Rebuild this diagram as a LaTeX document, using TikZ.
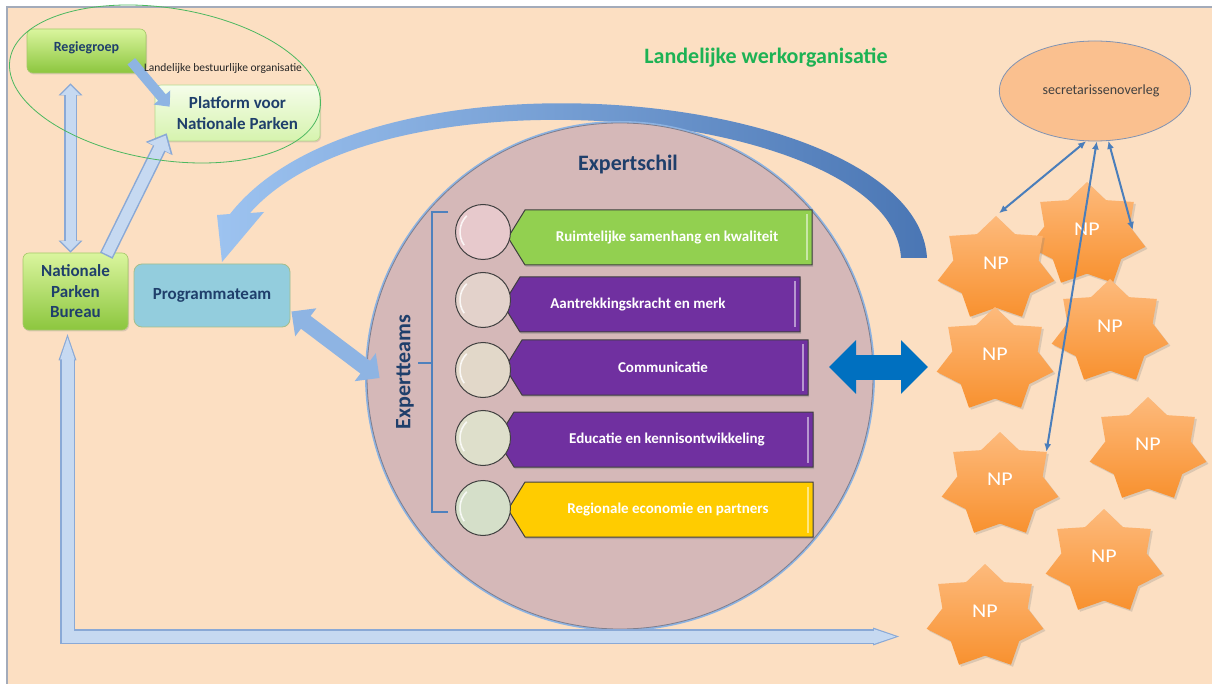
\documentclass[tikz,border=0pt]{standalone}
\usepackage{fontspec}
\setmainfont{Carlito}
\usepackage{tikz}
\usetikzlibrary{
    shapes, shapes.geometric,
    arrows.meta, positioning, calc, shadows
}
\definecolor{peachBg}{HTML}{FCDFC2}
\definecolor{frameGrey}{HTML}{A3ABBA}
\definecolor{textNavy}{HTML}{1F3F6B}
\definecolor{leafTop}{HTML}{DAF59E}
\definecolor{leafBottom}{HTML}{8CC63E}
\definecolor{leafEdge}{HTML}{A6C86A}
\definecolor{paleTop}{HTML}{F5FDEA}
\definecolor{paleBottom}{HTML}{D6F3AE}
\definecolor{paleEdge}{HTML}{B5D98A}
\definecolor{ringGreen}{HTML}{4CB860}
\definecolor{titleGreen}{HTML}{1DB254}
\definecolor{labelInk}{HTML}{262626}
\definecolor{progBlue}{HTML}{93CDDD}
\definecolor{progEdge}{HTML}{A3BE8C}
\definecolor{arrowPale}{HTML}{C6D9F1}
\definecolor{arrowMid}{HTML}{8EB4E3}
\definecolor{arrowEdge}{HTML}{8AA9D6}
\definecolor{shellRose}{HTML}{D5B8B8}
\definecolor{shellEdge}{HTML}{7E7E8E}
\definecolor{glowBlue}{HTML}{8DB3E2}
\definecolor{braceBlue}{HTML}{4F81BD}
\definecolor{barBorder}{HTML}{3F3F3F}
\definecolor{barGreen}{HTML}{92D050}
\definecolor{barPurple}{HTML}{7030A0}
\definecolor{barYellow}{HTML}{FFCC00}
\definecolor{knobEdge}{HTML}{404040}
\definecolor{knobRose}{HTML}{E7C9CC}
\definecolor{knobSand}{HTML}{E3D2CB}
\definecolor{knobWheat}{HTML}{E2D8C9}
\definecolor{knobSage}{HTML}{DEDFCB}
\definecolor{knobMint}{HTML}{D5DFC9}
\definecolor{hubBlue}{HTML}{0070C0}
\definecolor{curveDark}{HTML}{4A76B4}
\definecolor{curveLight}{HTML}{9DC3F0}
\definecolor{starTop}{HTML}{FDBA7C}
\definecolor{starBottom}{HTML}{F8912F}
\definecolor{secFill}{HTML}{FAC08F}
\definecolor{secEdge}{HTML}{8093B3}
\definecolor{secText}{HTML}{404040}
\definecolor{linkBlue}{HTML}{4A7EBB}
\newcommand{\ExpertRow}[9]{
    \draw[barEdge, fill=#5] (#3,#2) -- (#3+17,#2-27.5) -- (#4,#2-27.5) -- (#4,#2+27.5) -- (#3+17,#2+27.5) -- cycle;
    \draw[draw=#5!50!white, line width=2.5pt] (#4-5,#2-23) -- (#4-5,#2+23);
    \node[barText] (#1) at (#6,#2) {#7};
    \node[knob, fill=#8] (#1Knob) at (483,#9) {};
}
\tikzset{
    % Common
    leafBox/.style={
        rectangle, rounded corners=6pt, draw=leafEdge, line width=0.6pt,
        top color=leafTop, bottom color=leafBottom, align=center, text=textNavy,
        font=\fontsize{17}{20.5}\selectfont\bfseries, inner sep=2pt,
        drop shadow={opacity=0.25, shadow xshift=1pt, shadow yshift=-1.5pt}
    },
    paleBox/.style={
        rectangle, rounded corners=6pt, draw=paleEdge, line width=0.6pt,
        top color=paleTop, bottom color=paleBottom, align=center, text=textNavy,
        font=\fontsize{17}{20.5}\selectfont\bfseries, inner sep=2pt,
        drop shadow={opacity=0.25, shadow xshift=1pt, shadow yshift=-1.5pt}
    },
    progBox/.style={
        rectangle, rounded corners=8pt, draw=progEdge, line width=0.8pt, fill=progBlue,
        minimum width=156pt, minimum height=63pt, text=textNavy,
        font=\fontsize{17}{20.5}\selectfont\bfseries
    },
    % Expert shell
    shellCircle/.style={circle, minimum size=506pt, fill=shellRose, draw=shellEdge, line width=0.8pt,
        preaction={draw=glowBlue, line width=4pt}},
    shellTitle/.style={font=\fontsize{22}{26}\selectfont\bfseries, text=textNavy},
    braceLine/.style={draw=braceBlue, line width=2pt},
    barEdge/.style={draw=barBorder, line width=1pt, drop shadow={opacity=0.35, shadow xshift=1pt, shadow yshift=-2pt}},
    barText/.style={font=\fontsize{15}{18}\selectfont\bfseries, text=white},
    knob/.style={circle, minimum size=55pt, inner sep=0pt, draw=knobEdge, line width=1pt,
        path picture={\draw[white, line width=1.6pt, opacity=0.8]
            ([shift={(215:23pt)}]path picture bounding box.center) arc[start angle=215, end angle=135, radius=23pt];}},
    % Arrows
    paleLine/.style={draw=arrowEdge},
    paleFill/.style={draw=arrowPale},
    midFill/.style={draw=arrowMid},
    hubArrow/.style={draw=hubBlue, line width=25pt, arrows={Triangle[width=52pt,length=27pt]-Triangle[width=52pt,length=27pt]}},
    thinLink/.style={<->, >={Latex[length=8pt,width=7pt]}, draw=linkBlue, line width=2pt},
    % Right side
    npStar/.style={star, star points=7, star point ratio=1.37, minimum size=106pt, inner sep=0pt,
        xscale=1.13, transform shape,
        top color=starTop, bottom color=starBottom, draw=none, text=white,
        font=\fontsize{19.5}{22}\selectfont, text depth=12pt,
        drop shadow={opacity=0.25, shadow xshift=2pt, shadow yshift=-2pt}},
    secBubble/.style={ellipse, minimum width=175pt, minimum height=100pt, fill=secFill, draw=secEdge,
        line width=0.8pt, font=\fontsize{14}{16}\selectfont, text=secText}
}
\begin{document}
\begin{tikzpicture}[x=1pt, y=-1pt]
    \useasboundingbox (0,0) rectangle (1212,684);
    \fill[white] (0,0) rectangle (1212,684);
    \fill[peachBg] (7,7) rectangle (1212,684);
    \draw[frameGrey, line width=1.5pt] (7,684) -- (7,7) -- (1212,7);

    % Curved return arrow
    \shade[left color=curveLight, right color=curveDark]
        (927,258) .. controls (917,90) and (370,35) .. (230,214)
        -- (217,215) -- (222,262) -- (264,212) -- (250,213)
        .. controls (385,60) and (893,110) .. (901,258) -- cycle;

    % Expert shell
    \node[shellCircle] (expert) at (620,376) {};
    \node[shellTitle] (schil) at (628,165) {Expertschil};
    \draw[braceLine] (448,212) -- (432,212) -- (432,512) -- (448,512);
    \draw[braceLine] (432,363) -- (418,363);
    \node[shellTitle, rotate=90] (teams) at (405,372) {Expertteams};
    \ExpertRow{ruimte}{237.5}{508}{812}{barGreen}{667}{Ruimtelijke samenhang en kwaliteit}{knobRose}{232}
    \ExpertRow{merk}{304.5}{503}{800}{barPurple}{638}{Aantrekkingskracht en merk}{knobSand}{300}
    \ExpertRow{comm}{367.5}{505}{808}{barPurple}{663}{Communicatie}{knobWheat}{370}
    \ExpertRow{educ}{439.5}{497}{813}{barPurple}{667}{Educatie en kennisontwikkeling}{knobSage}{438}
    \ExpertRow{regio}{509.5}{508}{813}{barYellow}{668}{Regionale economie en partners}{knobMint}{508}

    % Left organisation
    \node[leafBox, minimum width=119pt, minimum height=44pt, text depth=9pt, font=\fontsize{14}{16}\selectfont\bfseries] (regie) at (86.5,51) {Regiegroep};
    \node[paleBox, minimum width=165pt, minimum height=56pt] (platform) at (237.5,113) {Platform voor\\Nationale Parken};
    \node[leafBox, minimum width=105pt, minimum height=77pt] (npb) at (75.5,291.5) {Nationale\\Parken\\Bureau};
    \node[progBox] (prog) at (212,295.5) {Programmateam};

    % Regiegroep <-> Bureau
    \draw[paleLine, line width=13pt, arrows={Triangle[width=23pt,length=12pt]-Triangle[width=23pt,length=12pt]}, shorten >=10pt]
        ([xshift=-5pt]npb.north) -- ([xshift=-5pt]npb.north |- regie.south);
    \draw[paleFill, line width=10pt, arrows={Triangle[width=18.5pt,length=9.5pt]-Triangle[width=18.5pt,length=9.5pt]}, shorten <=2pt, shorten >=12pt]
        ([xshift=-5pt]npb.north) -- ([xshift=-5pt]npb.north |- regie.south);
    % Regiegroep -> Platform
    \draw[midFill, line width=10pt, arrows={-Triangle[width=21pt,length=12pt]}]
        ($(regie.south east)+(-15,-12)$) -- ($(platform.north west)+(15,22)$);
    % Bureau -> Platform
    \draw[paleLine, line width=14pt, arrows={-Triangle[width=29pt,length=17pt]}]
        ($(npb.north east)+(-22,3)$) -- ($(platform.south west)+(12,-8)$);
    \draw[paleFill, line width=11pt, arrows={-Triangle[width=24pt,length=14pt]}, shorten <=1.5pt, shorten >=2.5pt]
        ($(npb.north east)+(-22,3)$) -- ($(platform.south west)+(12,-8)$);
    % Programmateam <-> Expertteams
    \draw[midFill, line width=16pt, arrows={Triangle[width=34pt,length=18pt]-Triangle[width=34pt,length=18pt]}]
        ($(prog.east)+(1,16)$) -- ($(expert.west)+(13,2)$);

    % Bestuurlijke ring
    \draw[ringGreen, line width=0.8pt, rotate around={-9:(165,84)}] (165,84) ellipse [x radius=157pt, y radius=76pt];
    \node[font=\fontsize{11.5}{13}\selectfont, text=labelInk, inner sep=0pt] (bestLabel) at (223,68) {Landelijke bestuurlijke organisatie};
    \node[font=\fontsize{22}{26}\selectfont\bfseries, text=titleGreen] (workTitle) at (766,58) {Landelijke werkorganisatie};

    % Shell <-> parks
    \coordinate (hubL) at (829,367);
    \coordinate (hubR) at (928,367);
    \draw[hubArrow] (hubL) -- (hubR);

    % Nationale Parken
    \foreach \id/\cx/\cy in {2/1087/235, 1/996/269, 3/1110/332, 4/995/360, 5/1148/450, 6/1000/485, 7/1104/562, 8/985/617}
        \node[npStar] (np\id) at (\cx,\cy) {NP};
    \node[secBubble] (sec) at (1095,91) {\hspace*{12pt}secretarissenoverleg};
    \draw[thinLink, shorten >=4pt] (sec.-100) -- (np1.north);
    \draw[thinLink] (sec.-88) -- (np6.39);
    \draw[thinLink] (sec.-75) -- (np2.7);

    % Bureau -> parks, along the bottom
    \coordinate (bottomEnd) at (903,636.5);
    \draw[paleLine, line width=15pt, arrows={Triangle[width=15pt,length=30pt]-Triangle[width=15pt,length=30pt]}]
        ([xshift=-8pt]npb.south) |- (bottomEnd);
    \draw[paleFill, line width=12pt, arrows={Triangle[width=12pt,length=26pt]-Triangle[width=12pt,length=26pt]}, shorten <=3pt, shorten >=3pt]
        ([xshift=-8pt]npb.south) |- (bottomEnd);
\end{tikzpicture}
\end{document}
